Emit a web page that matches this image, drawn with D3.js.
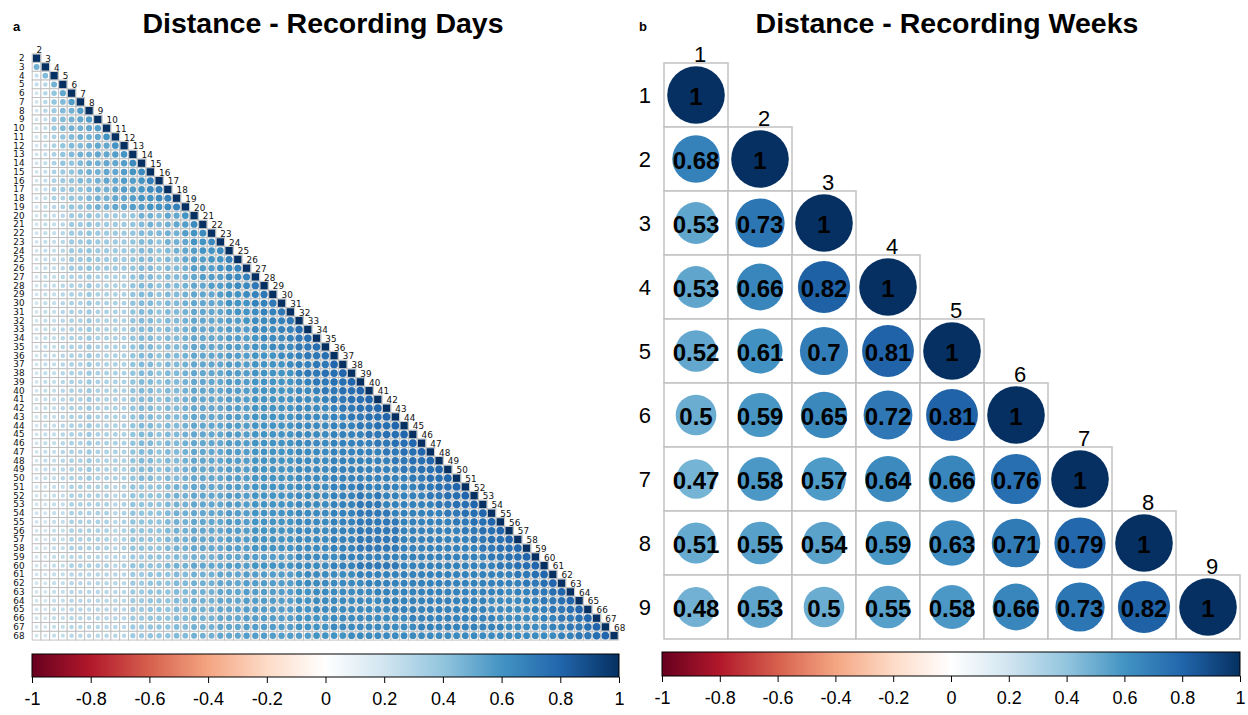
<!DOCTYPE html>
<html>
<head>
<meta charset="utf-8">
<script src="https://cdn.jsdelivr.net/npm/d3@7"></script>
<style>
  body { margin: 0; background: #ffffff; }
  svg { display: block; }
</style>
</head>
<body>
<svg id="chart" width="1248" height="715"></svg>
<script>
// ---------- data ----------
// Recording days shown in panel a
const dayLabels = d3.range(2, 69).map(String);

// Lower triangle of the day-by-day correlation matrix, one row per day (3..68),
// one letter per earlier day: a = 0.00, b = 0.04, c = 0.08 ... z = 1.00 (spaces ignored)
const dayCorrRows = [
  "m",
  "gl",
  "ghm",
  "fhkn",
  "fhklo",
  "fhjlmo",
  "fgjlmno",
  "fgjlmmno",
  "fgiklmmnp",
  "fgikllmnnp",
  "fgiklmmnnop",
  "fgikklmmnnoq",
  "fgijklmmnnopq",
  "fgijkllmnnoopr",
  "fgijkklmmnoopqr",
  "fgiikklmmnnoppqr",
  "fghikklmmnnooppqr",
  "fgghjjkjjjj kmmlnnp",
  "fgghjjkjjjj klmlmnoq",
  "fgghjjkjjjj klllmmopq",
  "fgghjjkjjjj kllkmmnppq",
  "fgghjjkjjjj kllklmnoppq",
  "fgghjjkjjjj kllkllnooppr",
  "fgghjjkjjjj kllkllmooopqr",
  "fgghiijiiii kllkllmnoooqqr",
  "fgghiijiiii kllkllmnnoopqqs",
  "fgghiijiiii kllkllmnnnoppqrs",
  "fgghiijiiii kllkllmnnnnppprrs",
  "fgghiijiiii kllkllmnnnn oppqrrs",
  "fgghiijiiii kllkllmnnnn oopqqrrs",
  "fgghiijiiii kllkllmnnnn oooqqqrrt",
  "fgghiijiiii kllkllmnnnn ooop qqqrst",
  "fgghiijiiii kllkllmnnnn ooopp qqqsst",
  "fgghiijiiii kllkllmnnnn oooppp qqrsst",
  "fgghiijiiii kllkllmnnnn ooopppp qrrssu",
  "fgghiijiiii kllkllmnnnn oooppppp rssttu",
  "fgghiijiiii kllkllmnnnn oooppppp q rssttu",
  "fgghiijiiii kllkllmnnnn oooppppp qq rssttu",
  "fgghiijiiii kllkllmnnnn oooppppp qqq rssttu",
  "fgghiijiiii kllkllmnnnn oooppppp qqqq rssttu",
  "fgghiijiiii kllkllmnnnn oooppppp qqqqr rssttu",
  "fgghiijiiii kllkllmnnnn oooppppp qqqqr r rssttu",
  "fgghiijiiii kllkllmnnnn oooppppp qqqqr rr rssttu",
  "fgghiijiiii kllkllmnnnn oooppppp qqqqr rrr rssttu",
  "fgghiijiiii kllkllmnnnn oooppppp qqqqr rrrr rssttu",
  "fgghiijiiii kllkllmnnnn oooppppp qqqqr rrrrr rssttu",
  "fgghiijiiii kllkllmnnnn oooppppp qqqqr rrrrr r rssttu",
  "fgghiijiiii kllkllmnnnn oooppppp qqqqr rrrrr rr rssttu",
  "ffggiiiiih ikkkklmmnn nnoooppppp qqqqr rrsrr rrr rssttu",
  "ffggiiiiih ikkkklmmnn nnoooppppp qqqqr rrsrs rrrr rssttu",
  "ffggiiiiih ikkkklmmnn nnoooppppp qqqqr rrsss rrrrr rssttu",
  "ffggiiiiih ikkkklmmnn nnoooppppp qqqqr rrsss srrrr r rssttu",
  "ffggiiiiih ikkkklmmnn nnoooppppp qqqqr rrsss ssrrr rr rssttu",
  "ffggiiiiih ikkkklmmnn nnoooppppp qqqqr rrsss ssrrr rrr rssttu",
  "ffggiiiiih ikkkklmmnn nnoooppppp qqqqr rrsss ssrrr rrrr rssttu",
  "ffggiiiiih ikkkklmmnn nnoooppppp qqqqr rrsss ssrrr rrrrr rssttu",
  "ffgghhhhhh hjjkkkllmm mnnnoooooo qqqqq rrrrr rrrrr rrrrr r rssttu",
  "ffggiiiiih ikkkklmmnn nnoooppppp qqqqr rrsss ssrrr rrrrr rr rssttu",
  "ffgghhhhhh hjjkkkllmm mnnnoooooo pqqqq qqrrr rrrrr rrrrr rrr rrsstu",
  "ffgghhhhhh hjjkkkllmm mnnnoooooo pqqqq qqqrr rrrrr rrrrr rrrr rrsstu",
  "ffgghhhhhh hjjkkkllmm mnnnoooooo ppqqq qqqqr rrrrr rrrrr rrrrq rrsstu",
  "ffgghhhhhh hjjkkkllmm mnnnoooooo ppqqq qqqqq rrrrr rrrrr rrqqq q rrsstu",
  "ffgghhhhhh hjjkkkllmm mnnnoooooo ppqqq qqqqq qrrrr rrrrr rrqqq qq rrsstu",
  "ffgghhhhhh hjjkkkllmm mnnnoooooo ppppq qqqqq qqqrr rrrrr rrrqq qqq rrsstu",
  "ffgghhhhhh hjjkkkllmm mnnnoooooo ppppq qqqqq qqqqr rrrrr rrrrq qqqq rrsstu",
  "ffgghhhhhh hjjkkkllmm mnnnoooooo ooppp pqqqq qqqqq qqqqq qqqqq qqqqq rrsstu"
];

// Recording weeks shown in panel b
const weekLabels = ["1", "2", "3", "4", "5", "6", "7", "8", "9"];
// Lower triangle of the week-by-week correlation matrix (rows 2..9)
const weekCorrRows = [
  [0.68],
  [0.53, 0.73],
  [0.53, 0.66, 0.82],
  [0.52, 0.61, 0.7, 0.81],
  [0.5, 0.59, 0.65, 0.72, 0.81],
  [0.47, 0.58, 0.57, 0.64, 0.66, 0.76],
  [0.51, 0.55, 0.54, 0.59, 0.63, 0.71, 0.79],
  [0.48, 0.53, 0.5, 0.55, 0.58, 0.66, 0.73, 0.82]
];

// Colour legend
const legendTicks = [-1, -0.8, -0.6, -0.4, -0.2, 0, 0.2, 0.4, 0.6, 0.8, 1];
const paletteStops = [-1, -0.8, -0.6, -0.4, -0.2, 0, 0.2, 0.4, 0.6, 0.8, 1];
const paletteColors = ["#67001F", "#B2182B", "#D6604D", "#F4A582", "#FDDBC7", "#FFFFFF",
                       "#D1E5F0", "#92C5DE", "#4393C3", "#2166AC", "#053061"];

// ---------- setup ----------
const svg = d3.select("#chart");
svg.append("rect").attr("width", 1248).attr("height", 715).attr("fill", "#ffffff");

const color = d3.scaleLinear().domain(paletteStops).range(paletteColors).interpolate(d3.interpolateRgb);
const sansFont = "'Liberation Sans', Arial, Helvetica, sans-serif";
const gridColor = "#c2c2c2";

function decodeRow(str) {
  return str.replace(/\s+/g, "").split("").map(ch => (ch.charCodeAt(0) - 97) * 0.04);
}

// ---------- titles ----------
svg.append("text").attr("x", 323).attr("y", 33).attr("text-anchor", "middle")
  .attr("font-family", sansFont).attr("font-weight", "bold").attr("font-size", 28.5)
  .text("Distance - Recording Days");
svg.append("text").attr("x", 947).attr("y", 33).attr("text-anchor", "middle")
  .attr("font-family", sansFont).attr("font-weight", "bold").attr("font-size", 28.5)
  .text("Distance - Recording Weeks");
svg.append("text").attr("x", 13).attr("y", 31).attr("font-family", sansFont)
  .attr("font-weight", "bold").attr("font-size", 13).text("a");
svg.append("text").attr("x", 639).attr("y", 31).attr("font-family", sansFont)
  .attr("font-weight", "bold").attr("font-size", 13).text("b");

// ---------- panel a: days ----------
const dayCell = 8.75;
const dayX = d3.scaleBand().domain(dayLabels).range([32.2, 32.2 + dayLabels.length * dayCell]);
const dayY = d3.scaleBand().domain(dayLabels).range([53.8, 53.8 + dayLabels.length * dayCell]);

const dayCells = [];
dayLabels.forEach((rowLab, i) => {
  if (i === 0) return;
  const vals = decodeRow(dayCorrRows[i - 1]);
  for (let j = 0; j < i && j < vals.length; j++) {
    dayCells.push({ row: rowLab, col: dayLabels[j], v: vals[j] });
  }
});

const gA = svg.append("g");
// grid for the lower triangle including the diagonal
const dayGrid = [];
dayLabels.forEach((rowLab, i) => {
  for (let j = 0; j <= i; j++) dayGrid.push({ row: rowLab, col: dayLabels[j] });
});
gA.append("g").selectAll("rect").data(dayGrid).join("rect")
  .attr("x", d => dayX(d.col)).attr("y", d => dayY(d.row))
  .attr("width", dayX.bandwidth()).attr("height", dayY.bandwidth())
  .attr("fill", "#ffffff").attr("stroke", "#bdbdbd").attr("stroke-width", 0.9);

gA.append("g").selectAll("circle").data(dayCells).join("circle")
  .attr("cx", d => dayX(d.col) + dayX.bandwidth() / 2)
  .attr("cy", d => dayY(d.row) + dayY.bandwidth() / 2)
  .attr("r", d => 0.49 * Math.sqrt(Math.abs(d.v)) * dayX.bandwidth())
  .attr("fill", d => color(d.v));

// diagonal (r = 1)
const diagSize = dayCell * 0.84;
gA.append("g").selectAll("rect").data(dayLabels).join("rect")
  .attr("x", d => dayX(d) + (dayX.bandwidth() - diagSize) / 2)
  .attr("y", d => dayY(d) + (dayY.bandwidth() - diagSize) / 2)
  .attr("width", diagSize).attr("height", diagSize)
  .attr("fill", color(1));

// row labels
gA.append("g").selectAll("text").data(dayLabels).join("text")
  .attr("x", 24.5).attr("y", d => dayY(d) + dayY.bandwidth() / 2)
  .attr("text-anchor", "end").attr("dominant-baseline", "central")
  .attr("font-family", "'DejaVu Sans', sans-serif").attr("font-size", 8.8)
  .attr("fill", "#111").text(d => d);
// column labels along the diagonal
gA.append("g").selectAll("text").data(dayLabels).join("text")
  .attr("x", d => dayX(d) + dayX.bandwidth() / 2).attr("y", d => dayY(d) - 0.8)
  .attr("text-anchor", "start")
  .attr("font-family", "'DejaVu Sans', sans-serif").attr("font-size", 8.8)
  .attr("fill", "#111").text(d => d);

// ---------- panel b: weeks ----------
const weekX = d3.scaleBand().domain(weekLabels).range([664, 1240]);
const weekY = d3.scaleBand().domain(weekLabels).range([63, 639]);
const wb = weekX.bandwidth();

const weekCells = [];
weekLabels.forEach((rowLab, i) => {
  weekCells.push({ row: rowLab, col: rowLab, v: 1 });
  if (i > 0) weekCorrRows[i - 1].forEach((v, j) => weekCells.push({ row: rowLab, col: weekLabels[j], v }));
});

const gB = svg.append("g");
gB.append("g").selectAll("rect").data(weekCells).join("rect")
  .attr("x", d => weekX(d.col)).attr("y", d => weekY(d.row))
  .attr("width", wb).attr("height", wb)
  .attr("fill", "#ffffff").attr("stroke", gridColor).attr("stroke-width", 1.5);

gB.append("g").selectAll("circle").data(weekCells).join("circle")
  .attr("cx", d => weekX(d.col) + wb / 2)
  .attr("cy", d => weekY(d.row) + wb / 2)
  .attr("r", d => 0.45 * Math.sqrt(Math.abs(d.v)) * wb)
  .attr("fill", d => color(d.v));

gB.append("g").selectAll("text").data(weekCells).join("text")
  .attr("x", d => weekX(d.col) + wb / 2)
  .attr("y", d => weekY(d.row) + wb / 2 + 1)
  .attr("text-anchor", "middle").attr("dominant-baseline", "central")
  .attr("font-family", sansFont).attr("font-weight", "bold").attr("font-size", 24)
  .attr("fill", "#000").text(d => String(d.v));

gB.append("g").selectAll("text").data(weekLabels).join("text")
  .attr("x", 651).attr("y", d => weekY(d) + wb / 2)
  .attr("text-anchor", "end").attr("dominant-baseline", "central")
  .attr("font-family", sansFont).attr("font-size", 22).attr("fill", "#000").text(d => d);
gB.append("g").selectAll("text").data(weekLabels).join("text")
  .attr("x", d => weekX(d) + wb / 2 + 4).attr("y", d => weekY(d) - 1)
  .attr("text-anchor", "middle")
  .attr("font-family", sansFont).attr("font-size", 22).attr("fill", "#000").text(d => d);

// ---------- colour legends ----------
const defs = svg.append("defs");
const grad = defs.append("linearGradient").attr("id", "rdbu").attr("x1", "0%").attr("x2", "100%");
paletteStops.forEach((s, k) => {
  grad.append("stop").attr("offset", ((s + 1) / 2 * 100) + "%").attr("stop-color", paletteColors[k]);
});

function colorBar(x0, x1, y0, h) {
  const g = svg.append("g");
  g.append("rect").attr("x", x0).attr("y", y0).attr("width", x1 - x0).attr("height", h)
    .attr("fill", "url(#rdbu)").attr("stroke", "#000").attr("stroke-width", 1);
  const sc = d3.scaleLinear().domain([-1, 1]).range([x0, x1]);
  const ax = g.append("g").attr("transform", `translate(0,${y0 + h})`)
    .call(d3.axisBottom(sc).tickValues(legendTicks).tickSize(6).tickPadding(9)
      .tickFormat(d => String(d)));
  ax.select(".domain").remove();
  ax.selectAll("line").attr("stroke", "#000");
  ax.selectAll("text").attr("font-family", sansFont).attr("font-size", 18).attr("fill", "#000");
}
colorBar(32, 619, 654, 23);
colorBar(662, 1240, 652, 24);
</script>
</body>
</html>
